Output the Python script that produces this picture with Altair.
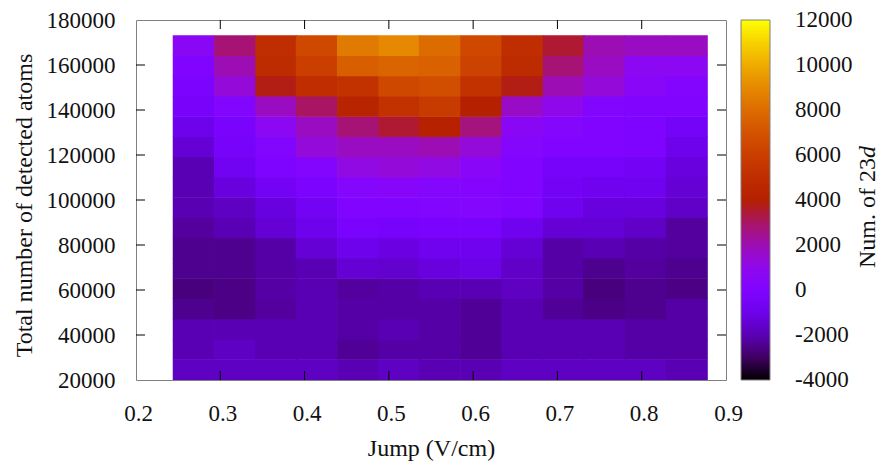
import altair as alt
import numpy as np
import pandas as pd

# ---- data ----
jump = [0.268, 0.317, 0.366, 0.414, 0.463, 0.512, 0.560, 0.609, 0.658, 0.707, 0.755, 0.804, 0.853]
atoms = [24500, 33500, 42500, 51500, 60500, 69500, 78500, 87500, 96500,
         105500, 114500, 123500, 132500, 141500, 150500, 159500, 168500]
# rows from bottom (24500) to top (168500), one value per jump column
counts = [
    [-1800, -1800, -1800, -1800, -2000, -1800, -2000, -2000, -1800, -1800, -1800, -1800, -2000],
    [-2000, -1800, -2000, -2000, -2400, -2200, -2200, -2400, -2000, -2000, -2000, -2200, -2200],
    [-2000, -2000, -2000, -2000, -2200, -2000, -2200, -2400, -2000, -2000, -2000, -2200, -2200],
    [-2500, -2600, -2300, -2000, -2200, -2200, -2200, -2400, -2000, -2400, -2600, -2500, -2200],
    [-2700, -2600, -2200, -2000, -2300, -2200, -2000, -2000, -1800, -2200, -2700, -2500, -2600],
    [-2500, -2500, -2200, -2000, -1500, -1600, -1300, -1100, -1700, -2200, -2500, -2300, -2500],
    [-2500, -2500, -2200, -1500, -1000, -1200, -900, -900, -1500, -2200, -2000, -2200, -2300],
    [-2300, -2000, -1500, -1000, -300, -500, -300, -300, -900, -1500, -1500, -1700, -2300],
    [-2000, -1800, -1300, -700, 0, 0, 200, 400, 0, -900, -1300, -1300, -1700],
    [-2000, -1300, -700, -200, 400, 500, 400, 300, 0, -700, -900, -900, -1500],
    [-2000, -800, -100, 300, 1200, 1400, 1200, 600, 0, -500, -500, -700, -1300],
    [-1500, -500, 200, 1400, 1800, 1800, 2000, 1400, 400, 0, 0, -100, -1000],
    [-1000, -300, 800, 1800, 2800, 3500, 4200, 2700, 700, 400, 0, -100, -600],
    [-500, 200, 1800, 3000, 4300, 5300, 5800, 4000, 1700, 1000, 200, 100, 100],
    [-200, 1400, 3800, 5000, 5300, 6500, 6800, 5300, 3800, 2000, 1400, 600, 300],
    [0, 2000, 4800, 6000, 7500, 7700, 7600, 6200, 4800, 2800, 1800, 800, 800],
    [700, 2800, 5000, 6500, 8500, 9000, 8000, 6500, 5000, 3500, 2000, 1800, 1800],
]
x_ticks = [0.2, 0.3, 0.4, 0.5, 0.6, 0.7, 0.8, 0.9]
y_ticks = [20000, 40000, 60000, 80000, 100000, 120000, 140000, 160000, 180000]
# colour-bar labels (end values nudged just inside so they are centred like gnuplot's)
cb_ticks = [11999, 10000, 8000, 6000, 4000, 2000, 0, -2000, -3999]

half_dx = 0.0244
half_dy = 4500
ov_x, ov_y = 0.001, 250   # tiny overlap to hide anti-aliasing seams

recs = []
for j, a in enumerate(atoms):
    for i, x in enumerate(jump):
        recs.append({"x0": x - half_dx, "x1": x + half_dx + ov_x,
                     "y0": a - half_dy, "y1": a + half_dy + ov_y, "v": counts[j][i]})
df = pd.DataFrame(recs)

# gnuplot default palette (rgbformulae 7,5,15)
def gp(t):
    r = np.sqrt(t)
    g = t ** 3
    b = max(0.0, np.sin(2 * np.pi * t))
    return "#%02x%02x%02x" % tuple(int(round(255 * min(1, max(0, c)))) for c in (r, g, b))

ts = np.linspace(0, 1, 65)
cdom = [float(-4000 + 16000 * t) for t in ts]
crng = [gp(t) for t in ts]

W, H = 590, 360
FONT = "Liberation Serif"

xscale = alt.Scale(domain=[0.2, 0.9], nice=False, zero=False)
yscale = alt.Scale(domain=[20000, 180000], nice=False, zero=False)
cscale = alt.Scale(domain=cdom, range=crng, interpolate="rgb")

xaxis = alt.Axis(values=x_ticks, format=".1f", title="Jump (V/cm)",
                 tickSize=0, domain=False, grid=False,
                 labelFont=FONT, labelFontSize=23, labelColor="#111",
                 labelPadding=22, labelFlush=False, labelOffset=2,
                 titleFont=FONT, titleFontSize=24, titleFontWeight="normal",
                 titleColor="#111", titleY=75, titleBaseline="alphabetic")
yaxis = alt.Axis(values=y_ticks, format="d", title="Total number of detected atoms",
                 tickSize=0, domain=False, grid=False,
                 labelFont=FONT, labelFontSize=23, labelColor="#111",
                 labelPadding=21, labelFlush=False,
                 titleFont=FONT, titleFontSize=24, titleFontWeight="normal",
                 titleColor="#111", titleX=-105, titleY=185,
                 titleBaseline="alphabetic")

cb_label = ("datum.value > 11000 ? '12000' : datum.value < -3900 ? '-4000' : "
            "datum.value < 0 ? '-' + format(-datum.value, 'd') : format(datum.value, 'd')")

heat = alt.Chart(df).mark_rect(strokeWidth=0).encode(
    x=alt.X("x0:Q", scale=xscale, axis=xaxis, title="Jump (V/cm)"),
    x2="x1:Q",
    y=alt.Y("y0:Q", scale=yscale, axis=yaxis, title="Total number of detected atoms"),
    y2="y1:Q",
    color=alt.Color("v:Q", scale=cscale,
                    legend=alt.Legend(type="gradient", orient="none", legendX=605, legendY=0,
                                      direction="vertical", title=None,
                                      gradientLength=H, gradientThickness=29,
                                      gradientStrokeColor="#808080", gradientStrokeWidth=1,
                                      values=cb_ticks, labelExpr=cb_label,
                                      labelFont=FONT, labelFontSize=23, labelColor="#111",
                                      labelOffset=25, labelOverlap=False, padding=0)),
)

xt_df = pd.DataFrame({"t": x_ticks[1:-1]})
yt_df = pd.DataFrame({"t": y_ticks[1:-1]})
TL = 9

bx = alt.Chart(xt_df).mark_rule(color="#000", strokeWidth=1)
tick_bottom = bx.encode(x=alt.X("t:Q", scale=xscale, axis=xaxis, title="Jump (V/cm)"),
                        y=alt.value(H), y2=alt.value(H - TL))
tick_top = bx.encode(x=alt.X("t:Q", scale=xscale, axis=xaxis, title="Jump (V/cm)"),
                     y=alt.value(0), y2=alt.value(TL))
by = alt.Chart(yt_df).mark_rule(color="#000", strokeWidth=1)
tick_left = by.encode(y=alt.Y("t:Q", scale=yscale, axis=yaxis, title="Total number of detected atoms"),
                      x=alt.value(0), x2=alt.value(TL))
tick_right = by.encode(y=alt.Y("t:Q", scale=yscale, axis=yaxis, title="Total number of detected atoms"),
                       x=alt.value(W - TL), x2=alt.value(W))

t1 = alt.Chart(pd.DataFrame({"s": ["Num. of 23"]})).mark_text(
    angle=270, align="left", baseline="alphabetic", font=FONT, fontSize=24, color="#111"
).encode(text="s:N", x=alt.value(739), y=alt.value(248))
t2 = alt.Chart(pd.DataFrame({"s": ["d"]})).mark_text(
    angle=270, align="left", baseline="alphabetic", font=FONT, fontSize=24,
    fontStyle="italic", color="#111"
).encode(text="s:N", x=alt.value(739), y=alt.value(138))

chart = alt.layer(heat, tick_bottom, tick_top, tick_left, tick_right, t1, t2).properties(
    width=W, height=H,
    autosize=alt.AutoSizeParams(type="none"),
    padding={"left": 128, "top": 12, "right": 155, "bottom": 81},
    background="white",
).configure_view(stroke="#808080", strokeWidth=1)

chart.save("out.html", embed_options={"renderer": "svg", "actions": False})
